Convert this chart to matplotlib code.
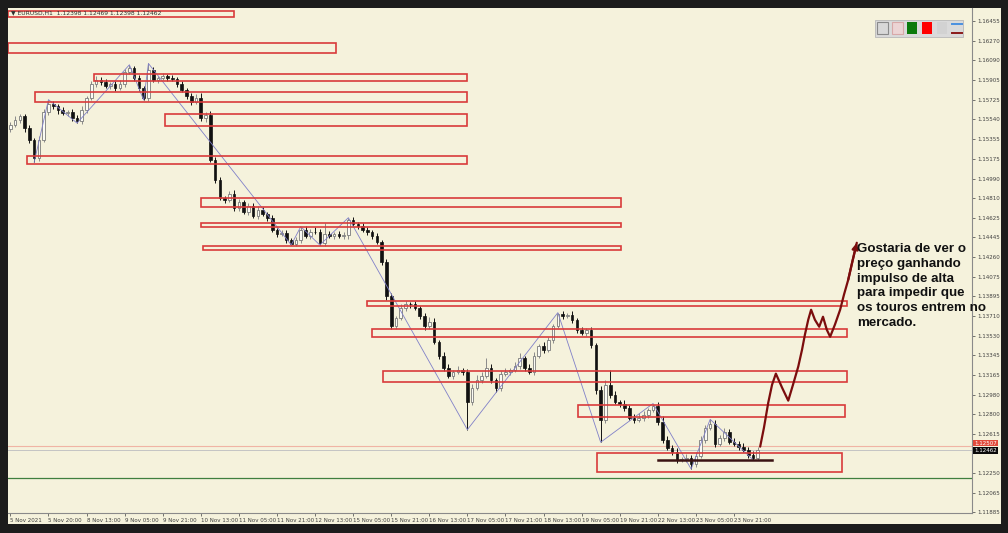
import matplotlib
matplotlib.use('Agg')
import matplotlib.pyplot as plt
from matplotlib.patches import Rectangle
import numpy as np

# EURUSD 2h bars
PIP = 0.0001
first_open = 1.15450
closes = [
    1.15489, 1.15535, 1.15572, 1.15461, 1.15349, 1.15182, 1.15349, 1.15610, 1.15684, 1.15665,
    1.15628, 1.15600, 1.15610, 1.15554, 1.15526, 1.15628, 1.15740, 1.15870, 1.15907, 1.15888,
    1.15851, 1.15870, 1.15833, 1.15870, 1.15981, 1.16018, 1.15925, 1.15833, 1.15740, 1.16000,
    1.15907, 1.15925, 1.15944, 1.15925, 1.15918, 1.15870, 1.15814, 1.15758, 1.15702, 1.15740,
    1.15554, 1.15582, 1.15164, 1.14978, 1.14811, 1.14792, 1.14848, 1.14718, 1.14773, 1.14680,
    1.14736, 1.14643, 1.14699, 1.14662, 1.14625, 1.14513, 1.14476, 1.14480, 1.14420, 1.14383,
    1.14420, 1.14513, 1.14458, 1.14495, 1.14490, 1.14392, 1.14476, 1.14458, 1.14476, 1.14458,
    1.14462, 1.14606, 1.14569, 1.14550, 1.14513, 1.14495, 1.14458, 1.14402, 1.14216, 1.13900,
    1.13621, 1.13696, 1.13789, 1.13826, 1.13820, 1.13789, 1.13714, 1.13621, 1.13659, 1.13473,
    1.13343, 1.13231, 1.13157, 1.13194, 1.13213, 1.13190, 1.12915, 1.13045, 1.13120, 1.13157,
    1.13231, 1.13120, 1.13045, 1.13175, 1.13194, 1.13213, 1.13250, 1.13324, 1.13231, 1.13194,
    1.13343, 1.13436, 1.13398, 1.13491, 1.13621, 1.13733, 1.13714, 1.13724, 1.13677, 1.13584,
    1.13556, 1.13584, 1.13445, 1.13027, 1.12748, 1.13073, 1.12980, 1.12915, 1.12897, 1.12860,
    1.12767, 1.12748, 1.12767, 1.12795, 1.12841, 1.12878, 1.12730, 1.12562, 1.12488, 1.12451,
    1.12377, 1.12380, 1.12395, 1.12339, 1.12414, 1.12562, 1.12674, 1.12711, 1.12525, 1.12581,
    1.12637, 1.12544, 1.12525, 1.12497, 1.12470, 1.12423, 1.12395, 1.12462,
]
# wick lengths in pips above / below the body
wick_up = [
    3, 4, 2, 2, 3, 2, 4, 3, 4, 3, 2, 3, 2, 3, 3, 4, 2, 3, 4, 3,
    3, 2, 3, 4, 3, 3, 2, 3, 2, 6, 3, 2, 3, 2, 3, 2, 3, 2, 3, 4,
    5, 3, 4, 3, 3, 2, 3, 4, 3, 2, 3, 3, 4, 3, 2, 3, 2, 3, 3, 2,
    3, 3, 4, 3, 4, 3, 10, 3, 2, 3, 3, 2, 3, 2, 3, 3, 2, 3, 2, 3,
    3, 2, 3, 3, 2, 3, 2, 3, 4, 3, 2, 3, 3, 2, 3, 2, 3, 3, 4, 3,
    9, 3, 2, 3, 3, 2, 3, 4, 2, 3, 3, 2, 3, 3, 2, 1, 3, 2, 3, 2,
    3, 2, 3, 2, 3, 4, 14, 3, 2, 3, 2, 3, 4, 3, 2, 2, 3, 5, 3, 2,
    3, 2, 3, 2, 3, 3, 2, 4, 3, 2, 3, 2, 3, 2, 3, 2, 3, 3,
]
wick_dn = [
    3, 2, 3, 4, 3, 4, 3, 2, 3, 3, 4, 2, 3, 3, 2, 3, 3, 2, 3, 3,
    2, 3, 3, 2, 3, 2, 3, 3, 2, 3, 2, 3, 2, 3, 2, 3, 2, 3, 3, 2,
    3, 4, 2, 3, 2, 3, 2, 3, 3, 2, 3, 2, 3, 2, 3, 2, 3, 2, 3, 1,
    2, 3, 2, 3, 2, 2, 3, 2, 3, 2, 3, 3, 2, 3, 2, 3, 3, 2, 3, 4,
    3, 3, 2, 3, 3, 2, 3, 4, 3, 2, 3, 3, 2, 3, 2, 3, 26, 3, 2, 3,
    2, 3, 4, 3, 2, 3, 2, 3, 3, 2, 3, 2, 3, 2, 3, 2, 3, 2, 3, 3,
    2, 3, 3, 4, 21, 3, 3, 2, 3, 3, 2, 3, 2, 3, 3, 2, 3, 3, 2, 3,
    3, 2, 3, 5, 3, 2, 3, 2, 3, 2, 3, 2, 2, 3, 2, 3, 2, 2,
]

time_labels = ['5 Nov 2021', '5 Nov 20:00', '8 Nov 13:00', '9 Nov 05:00', '9 Nov 21:00',
               '10 Nov 13:00', '11 Nov 05:00', '11 Nov 21:00', '12 Nov 13:00', '15 Nov 05:00',
               '15 Nov 21:00', '16 Nov 13:00', '17 Nov 05:00', '17 Nov 21:00', '18 Nov 13:00',
               '19 Nov 05:00', '19 Nov 21:00', '22 Nov 13:00', '23 Nov 05:00', '23 Nov 21:00']
label_step = 8
price_ticks = [1.16455, 1.16270, 1.16090, 1.15905, 1.15725, 1.15540, 1.15355, 1.15175,
               1.14990, 1.14810, 1.14625, 1.14445, 1.14260, 1.14075, 1.13895, 1.13710,
               1.13530, 1.13345, 1.13165, 1.12980, 1.12800, 1.12615, 1.12250, 1.12065, 1.11885]

# zigzag indicator
zz_bar = [5, 8, 14, 25, 28, 29, 59, 61, 65, 71, 96, 115, 124, 135, 143, 147, 156]
zz_price = [1.15142, 1.15724, 1.15506, 1.16048, 1.15720, 1.16060, 1.14373, 1.14543, 1.14372,
            1.14626, 1.12655, 1.13743, 1.12538, 1.12898, 1.12289, 1.12751, 1.12375]

# supply / demand zones
zone_start = [-0.5, -0.5, 17.6, 5.2, 32.5, 3.5, 40.0, 40.0, 40.5, 74.9, 76.0, 78.3, 119.2, 123.2]
zone_end = [47.0, 68.4, 95.9, 95.9, 95.9, 95.9, 128.3, 128.3, 128.3, 175.7, 175.7, 175.7, 175.3, 174.7]
zone_top = [1.16548, 1.16251, 1.15963, 1.15795, 1.15591, 1.15201, 1.14811, 1.14578, 1.14365,
            1.13854, 1.13594, 1.13204, 1.12888, 1.12442]
zone_bottom = [1.16492, 1.16158, 1.15898, 1.15702, 1.15479, 1.15126, 1.14727, 1.14541, 1.14328,
               1.13807, 1.13519, 1.13101, 1.12776, 1.12265]

support_bars = [136, 160]
support_price = 1.12377
ask_price = 1.12507
green_level = 1.12210

# hand drawn projection
path_bar = [157.5, 158.3, 159.2, 160.0, 160.8, 162.1, 163.4, 164.4, 165.5, 166.3, 166.9, 167.6,
            168.2, 169.0, 169.9, 170.7, 171.5, 172.2, 173.2, 174.3, 175.1, 176.0, 176.8, 177.8]
path_price = [1.12497, 1.12674, 1.12906, 1.13073, 1.13176, 1.13046, 1.12925, 1.13073, 1.13241,
              1.13399, 1.13538, 1.13677, 1.13770, 1.13677, 1.13612, 1.13705, 1.13584, 1.13519,
              1.13631, 1.13770, 1.13909, 1.14049, 1.14207, 1.14393]

note = ("Gostaria de ver o\npreço ganhando\nimpulso de alta\npara impedir que\n"
        "os touros entrem no\nmercado.")

CREAM = '#f5f2dc'
W, H = 1008, 533

fig = plt.figure(figsize=(W / 100, H / 100), dpi=100, facecolor='#1c1c1c')
bg = fig.add_axes([0, 0, 1, 1], zorder=0)
bg.set_xlim(0, W)
bg.set_ylim(H, 0)
bg.axis('off')
bg.add_patch(Rectangle((8, 8), 993, 516, color=CREAM, lw=0))

ax = fig.add_axes([8 / W, (H - 513) / H, 964 / W, 505 / H], zorder=1)
ax.set_facecolor(CREAM)

opens = [first_open] + closes[:-1]
highs = [max(o, c) + u * PIP for o, c, u in zip(opens, closes, wick_up)]
lows = [min(o, c) - d * PIP for o, c, d in zip(opens, closes, wick_dn)]
x = np.arange(len(closes))
o = np.array(opens)
c = np.array(closes)
up = c >= o

ax.vlines(x[up], np.array(lows)[up], np.array(highs)[up], color='#8a8a8a', lw=0.7, zorder=3)
ax.vlines(x[~up], np.array(lows)[~up], np.array(highs)[~up], color='#111111', lw=0.7, zorder=3)
body = np.maximum(np.abs(c - o), 0.00003)
ax.bar(x[up], body[up], bottom=o[up], width=0.55, color='#fbfbf4', edgecolor='#7a7a7a',
       lw=0.6, zorder=4)
ax.bar(x[~up], body[~up], bottom=c[~up], width=0.55, color='#111111', edgecolor='#111111',
       lw=0.5, zorder=4)

ax.plot(zz_bar, zz_price, color='#8080c8', lw=0.6, zorder=5)

for s, e, t, b in zip(zone_start, zone_end, zone_top, zone_bottom):
    ax.add_patch(Rectangle((s, b), e - s, t - b, fill=False, ec='#d93b3b', lw=1.2, zorder=6))

ax.axhline(ask_price, color='#f0b4a4', lw=0.8, zorder=2)
ax.axhline(closes[-1], color='#c4c4c4', lw=0.7, zorder=2)
ax.axhline(green_level, color='#3f7f3f', lw=0.9, zorder=2)
ax.plot(support_bars, [support_price] * 2, color='#3a1212', lw=1.8, zorder=7)

ax.plot(path_bar, path_price, color='#7b0d0d', lw=1.6, zorder=8, solid_capstyle='round')
ax.annotate('', xy=(path_bar[-1], path_price[-1]), xytext=(path_bar[-3], path_price[-3]),
            arrowprops=dict(arrowstyle='-|>', color='#7b0d0d', lw=1.6, mutation_scale=9,
                            shrinkA=0, shrinkB=0), zorder=8)

ax.text(path_bar[-1], path_price[-1], note, ha='left', va='top', fontsize=9.6,
        fontweight='bold', family='Liberation Sans', color='#111111', linespacing=1.32,
        zorder=9)

ax.set_xlim(-0.5, 202)
ax.set_ylim(1.11880, 1.16576)

ax.yaxis.tick_right()
ax.set_yticks(price_ticks)
ax.set_yticklabels([f'{p:.5f}' for p in price_ticks])
ax.tick_params(axis='y', labelsize=4, colors='#404040', length=2, width=0.5, pad=2)
xt = [i * label_step for i in range(len(time_labels))]
ax.set_xticks(xt)
ax.set_xticklabels(time_labels, ha='left')
ax.tick_params(axis='x', labelsize=4, colors='#404040', length=2, width=0.5, pad=1.5)
for sp in ['left', 'top']:
    ax.spines[sp].set_visible(False)
for sp in ['right', 'bottom']:
    ax.spines[sp].set_color('#8a8a8a')
    ax.spines[sp].set_linewidth(0.8)

# price labels on the axis
yt = ax.get_yaxis_transform()
ax.text(1.002, ask_price, f'{ask_price:.5f}', transform=yt, fontsize=4, color='white',
        va='bottom', ha='left', clip_on=False, zorder=10,
        bbox=dict(boxstyle='square,pad=0.15', fc='#e04a3a', ec='none'))
ax.text(1.002, closes[-1], f'{closes[-1]:.5f}', transform=yt, fontsize=4, color='white',
        va='center', ha='left', clip_on=False, zorder=11,
        bbox=dict(boxstyle='square,pad=0.15', fc='#0a0a0a', ec='none'))

# chart window chrome
ov = fig.add_axes([0, 0, 1, 1], zorder=3)
ov.set_xlim(0, W)
ov.set_ylim(H, 0)
ov.axis('off')
ov.patch.set_alpha(0)
ov.text(11, 13, '\u25bc EURUSD,H1  1.12398 1.12469 1.12398 1.12462', fontsize=4.3,
        color='#303030', va='center', ha='left')
ov.add_patch(Rectangle((875, 20), 88, 17, fc='#dadada', ec='#b8b8b8', lw=0.6))
ov.add_patch(Rectangle((877, 22), 11, 12, fc='#d8d8d8', ec='#8a8a8a', lw=0.8))
ov.add_patch(Rectangle((892, 22), 11, 12, fc='#ecd4d4', ec='#d8a8a8', lw=0.8))
ov.add_patch(Rectangle((907, 22), 10, 12, fc='#0b7a0b', ec='none'))
ov.add_patch(Rectangle((922, 22), 10, 12, fc='#ff0000', ec='none'))
ov.add_patch(Rectangle((937, 22), 10, 12, fc='#d2d2d2', ec='none'))
ov.plot([952, 962], [24, 24], color='#4a90e0', lw=1.4)
ov.plot([952, 962], [33, 33], color='#8b1a1a', lw=1.4)

fig.savefig('out.png', dpi=100, facecolor=fig.get_facecolor())
